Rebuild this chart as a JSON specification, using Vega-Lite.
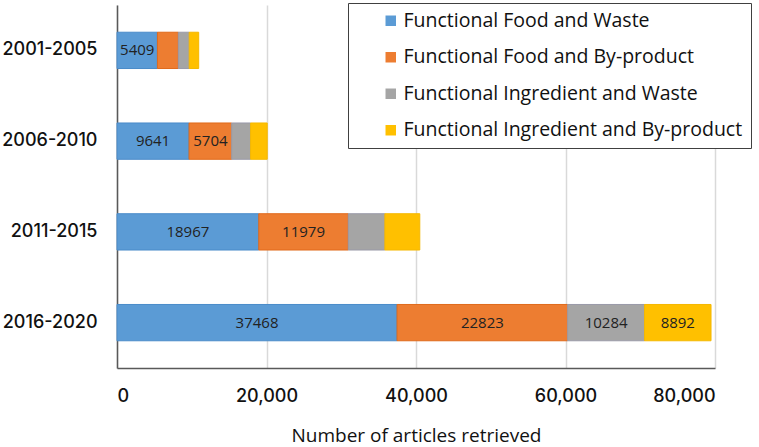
{
  "$schema": "https://vega.github.io/schema/vega-lite/v6.json",
  "width": 598,
  "height": 363,
  "autosize": "none",
  "padding": {"left": 117, "top": 5, "right": 44, "bottom": 79},
  "background": "white",
  "config": {
    "font": "Open Sans",
    "view": {"stroke": null}
  },
  "data": {
    "values": [
      {"period": "2001-2005", "series": "Functional Food and Waste", "value": 5409},
      {"period": "2001-2005", "series": "Functional Food and By-product", "value": 2800},
      {"period": "2001-2005", "series": "Functional Ingredient and Waste", "value": 1450},
      {"period": "2001-2005", "series": "Functional Ingredient and By-product", "value": 1270},
      {"period": "2006-2010", "series": "Functional Food and Waste", "value": 9641},
      {"period": "2006-2010", "series": "Functional Food and By-product", "value": 5704},
      {"period": "2006-2010", "series": "Functional Ingredient and Waste", "value": 2530},
      {"period": "2006-2010", "series": "Functional Ingredient and By-product", "value": 2220},
      {"period": "2011-2015", "series": "Functional Food and Waste", "value": 18967},
      {"period": "2011-2015", "series": "Functional Food and By-product", "value": 11979},
      {"period": "2011-2015", "series": "Functional Ingredient and Waste", "value": 4890},
      {"period": "2011-2015", "series": "Functional Ingredient and By-product", "value": 4670},
      {"period": "2016-2020", "series": "Functional Food and Waste", "value": 37468},
      {"period": "2016-2020", "series": "Functional Food and By-product", "value": 22823},
      {"period": "2016-2020", "series": "Functional Ingredient and Waste", "value": 10284},
      {"period": "2016-2020", "series": "Functional Ingredient and By-product", "value": 8892}
    ]
  },
  "transform": [
    {"calculate": "indexof(['Functional Food and Waste', 'Functional Food and By-product', 'Functional Ingredient and Waste', 'Functional Ingredient and By-product'], datum.series)", "as": "idx"},
    {"stack": "value", "groupby": ["period"], "sort": [{"field": "idx", "order": "ascending"}], "as": ["x0", "x1"]},
    {"calculate": "(datum.x0 + datum.x1) / 2", "as": "mid"}
  ],
  "encoding": {
    "y": {
      "field": "period",
      "type": "nominal",
      "scale": {"paddingInner": 0.6, "paddingOuter": 0.3},
      "axis": {
        "title": null,
        "ticks": false,
        "labelFont": "Inter",
        "labelFontSize": 18,
        "labelFontWeight": 500,
        "labelColor": "#111",
        "labelPadding": 20,
        "domainColor": "#595959",
        "domainWidth": 1.5
      }
    }
  },
  "layer": [
    {
      "mark": {"type": "bar", "strokeWidth": 1},
      "encoding": {
        "x": {
          "field": "x0",
          "type": "quantitative",
          "scale": {"domain": [0, 80000]},
          "axis": {
            "title": "Number of articles retrieved",
            "titleFontSize": 19,
            "titleFontWeight": "normal",
            "titleColor": "#111",
            "titlePadding": 21,
            "values": [0, 20000, 40000, 60000, 80000],
            "format": ",d",
            "ticks": false,
            "labelFont": "Inter",
            "labelFontSize": 18,
            "labelFontWeight": 500,
            "labelColor": "#111",
            "labelPadding": 19,
            "gridColor": "#D9D9D9",
            "gridWidth": 1.5,
            "domainColor": "#595959",
            "domainWidth": 1.5
          }
        },
        "x2": {"field": "x1"},
        "color": {
          "field": "series",
          "type": "nominal",
          "scale": {
            "domain": ["Functional Food and Waste", "Functional Food and By-product", "Functional Ingredient and Waste", "Functional Ingredient and By-product"],
            "range": ["#5B9BD5", "#ED7D31", "#A5A5A5", "#FFC000"]
          },
          "legend": {
            "title": null,
            "orient": "none",
            "legendX": 231,
            "legendY": -2,
            "symbolType": "square",
            "symbolSize": 110,
            "symbolStrokeWidth": 0,
            "symbolOffset": 25,
            "labelOffset": 3,
            "labelFontSize": 19.5,
            "labelColor": "#111",
            "labelLimit": 500,
            "rowPadding": 15.5,
            "padding": 8,
            "strokeColor": "#404040",
            "fillColor": "white"
          }
        },
        "stroke": {
          "field": "series",
          "type": "nominal",
          "scale": {
            "domain": ["Functional Food and Waste", "Functional Food and By-product", "Functional Ingredient and Waste", "Functional Ingredient and By-product"],
            "range": ["#4A8BC9", "#E06A1B", "#9A9AA8", "#F5B800"]
          },
          "legend": null
        }
      }
    },
    {
      "transform": [{"filter": "datum.value > 5000"}],
      "mark": {"type": "text", "fontSize": 15, "color": "#222"},
      "encoding": {
        "x": {"field": "mid", "type": "quantitative"},
        "text": {"field": "value", "type": "quantitative", "format": "d"}
      }
    }
  ]
}
